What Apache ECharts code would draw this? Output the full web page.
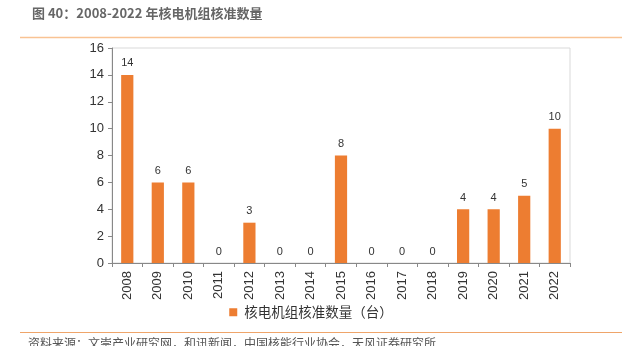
<!DOCTYPE html>
<html><head><meta charset="utf-8">
<script src="https://cdn.jsdelivr.net/npm/echarts@6/dist/echarts.min.js"></script>
<style>html,body{margin:0;padding:0;background:#fff}#c{width:622px;height:346px}</style>
</head><body><div id="c"></div>
<script>
const categories = ['2008','2009','2010','2011','2012','2013','2014','2015','2016','2017','2018','2019','2020','2021','2022'];
const approvals = [14,6,6,0,3,0,0,8,0,0,0,4,4,5,10];
const seriesName = '核电机组核准数量（台）';
const titleText = '图 40：2008-2022 年核电机组核准数量';
const sourceText = '资料来源：文崇产业研究网，和讯新闻，中国核能行业协会，天风证券研究所';

const chart = echarts.init(document.getElementById('c'), null, {renderer:'canvas'});
chart.setOption({
  animation:false,
  textStyle:{fontFamily:'Liberation Sans, Arial, sans-serif'},
  grid:{left:112,right:52,top:48,bottom:83,show:true,borderColor:'#d9d9d9',borderWidth:1},
  legend:{
    bottom:22,left:'center',itemWidth:8,itemHeight:8,itemGap:4,icon:'rect',
    textStyle:{fontFamily:'Noto Sans CJK SC',fontSize:13.5,color:'#333',padding:[0,0,0,2]}
  },
  xAxis:{
    type:'category',data:categories,
    axisLine:{lineStyle:{color:'#888'}},
    axisTick:{show:true,alignWithLabel:false,length:4,lineStyle:{color:'#888'}},
    axisLabel:{rotate:90,fontSize:13,color:'#333',margin:8,interval:0}
  },
  yAxis:{
    type:'value',min:0,max:16,interval:2,
    axisLine:{show:true,lineStyle:{color:'#888'}},
    axisTick:{show:true,length:4,lineStyle:{color:'#888'}},
    splitLine:{show:false},
    axisLabel:{fontSize:13,color:'#333',margin:8}
  },
  series:[{
    name:seriesName,type:'bar',data:approvals,barWidth:'40%',
    itemStyle:{color:'#ED7D31'},
    label:{show:true,position:'top',fontSize:11,color:'#333',distance:6}
  }],
  graphic:[
    {type:'text',left:32,top:7,style:{text:titleText,fontFamily:'Noto Sans CJK SC',fontSize:13,fontWeight:'bold',fill:'#666'}},
    {type:'line',shape:{x1:20,y1:37.5,x2:622,y2:37.5},style:{stroke:'#F9C393',lineWidth:1.5}},
    {type:'line',shape:{x1:20,y1:332.5,x2:622,y2:332.5},style:{stroke:'#EFA56A',lineWidth:1}},
    {type:'text',left:28,top:337,style:{text:sourceText,fontFamily:'Noto Sans CJK SC',fontSize:12,fill:'#555'}}
  ]
});
</script></body></html>
